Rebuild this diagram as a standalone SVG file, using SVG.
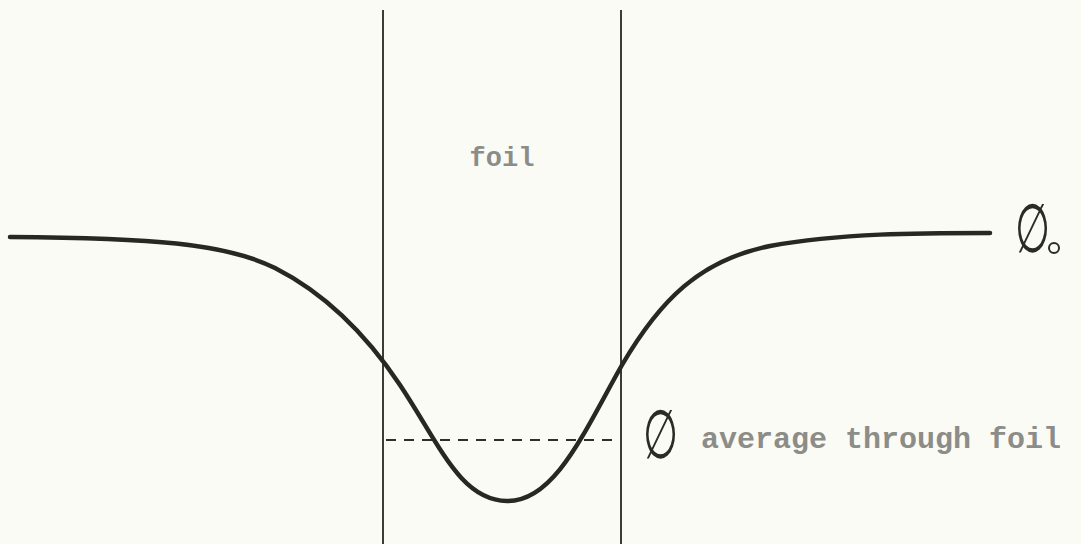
<svg xmlns="http://www.w3.org/2000/svg" width="1081" height="544" viewBox="0 0 1081 544">
<style>
.bound{stroke:#3a3d33;stroke-width:2;fill:none}
.curve{stroke:#272822;stroke-width:4.5;fill:none;stroke-linecap:round}
.dash{stroke:#2e2e2a;stroke-width:1.8;stroke-dasharray:10,8;fill:none}
.type{font-family:"Liberation Mono",monospace;font-weight:bold;fill:#8c8c88}
.hand{font-family:"DejaVu Sans",sans-serif;font-weight:200;fill:#2a2a26}
</style>
<rect width="1081" height="544" fill="#fbfbf5"/>
<g id="foil-region">
<line class="bound" x1="383" y1="10" x2="383" y2="544"/>
<line class="bound" x1="621" y1="10" x2="621" y2="544"/>
<text class="type" x="502" y="166" font-size="27" text-anchor="middle">foil</text>
</g>
<g id="connectors">
<path class="curve" d="M10,237 C150,238 225,243 275,268 C330,296 370,340 400,385 C440,445 460,500 507,501 C555,502 585,430 622,365 C660,300 700,260 770,246 C840,233 920,233 990,233"/>
<line class="dash" x1="386" y1="440" x2="612" y2="440"/>
</g>
<g id="phi0-label">
<text class="hand" x="0" y="0" font-size="50" transform="translate(1015,252) scale(0.8,1.35)">∅</text>
<circle cx="1054" cy="248" r="5" fill="none" stroke="#2a2a26" stroke-width="2"/>
</g>
<g id="phi-avg-label">
<text class="hand" x="0" y="0" font-size="50" transform="translate(643,458) scale(0.8,1.35)">∅</text>
<text class="type" x="701" y="448" font-size="30">average through foil</text>
</g>
</svg>
